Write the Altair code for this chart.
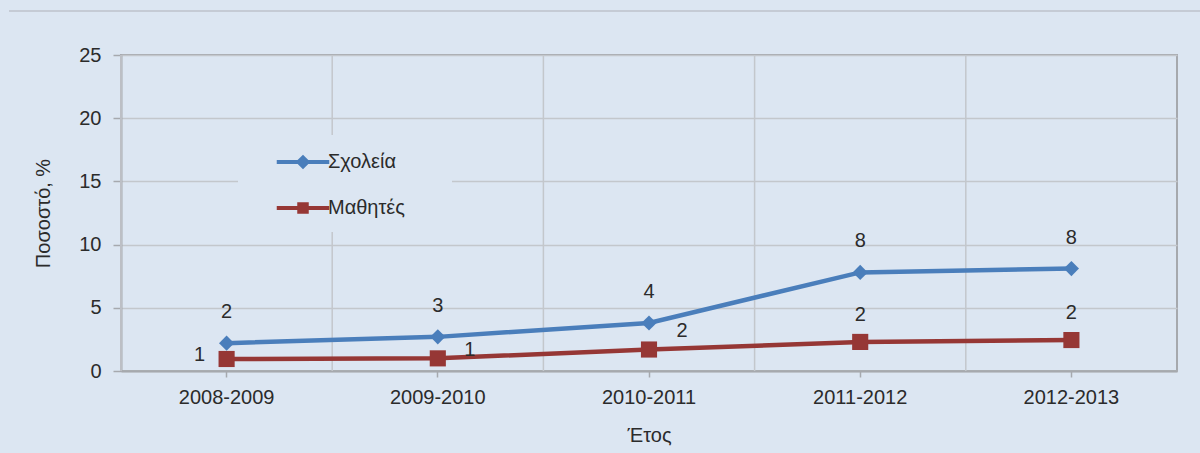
import altair as alt
import pandas as pd

years = ["2008-2009", "2009-2010", "2010-2011", "2011-2012", "2012-2013"]
schools = [2.2, 2.7, 3.8, 7.8, 8.1]
schools_labels = ["2", "3", "4", "8", "8"]
students = [0.95, 1.0, 1.7, 2.3, 2.45]
students_labels = ["1", "1", "2", "2", "2"]

BG = "#DCE6F2"
BLUE = "#4A7EBB"
RED = "#963735"
TXT = "#2B2B2B"
FONT = "Liberation Sans"

s_name = "Σχολεία"
m_name = "Μαθητές"

df_s = pd.DataFrame({"year": years, "value": schools, "label": schools_labels,
                     "series": s_name, "idx": range(5)})
df_m = pd.DataFrame({"year": years, "value": students, "label": students_labels,
                     "series": m_name, "idx": range(5)})
df_grid = pd.DataFrame({"year": years})

xscale = alt.Scale(type="band", domain=years, paddingInner=0, paddingOuter=0)
yscale = alt.Scale(domain=[0, 25])

X = alt.X("year:N", scale=xscale, bandPosition=0.5,
          axis=alt.Axis(title="Έτος", grid=False, bandPosition=0.5, tickSize=6,
                        labelPadding=20, titlePadding=18, labelAngle=0,
                        labelAlign="center"))
Y = alt.Y("value:Q", scale=yscale,
          axis=alt.Axis(title="Ποσοστό, %", values=[0, 5, 10, 15, 20, 25], tickSize=8,
                        labelPadding=12, titlePadding=25, grid=True))

# vertical gridlines at category boundaries
vgrid = alt.Chart(df_grid).mark_rule(color="#C3C7CC", strokeWidth=1.5).encode(
    x=alt.X("year:N", scale=xscale, bandPosition=0)
)

# top frame line
frame = alt.Chart(df_grid).mark_rule(color="#C4CBD4", strokeWidth=1.5).encode(
    x=alt.value(-112), x2=alt.value(1079), y=alt.value(-44)
)

# legend background box (hides gridlines behind the legend)
legend_box = alt.Chart(df_grid).mark_rect(color=BG, opacity=1).encode(
    x=alt.value(117), x2=alt.value(331), y=alt.value(80), y2=alt.value(177)
)

diamond_path = "M-1.75,0H1.75M-0.3,0L0,-0.3L0.3,0L0,0.3Z"
square_path = "M-1.75,0H1.75M-0.25,-0.25H0.25V0.25H-0.25Z"


def legend(path, color, ly):
    return alt.Legend(
        title=None, orient="none", legendX=117, legendY=ly,
        symbolType=path, symbolSize=900, symbolStrokeWidth=4,
        symbolFillColor=color, symbolStrokeColor=color, symbolOpacity=1,
        symbolOffset=38, labelOffset=8, labelFontSize=20, labelFont=FONT,
        labelColor=TXT, padding=10, fillColor=BG,
    )


def series_layer(df, color, shape, size, path, ly, texts):
    cscale = alt.Scale(domain=[df["series"][0]], range=[color])
    line = alt.Chart(df).mark_line(strokeWidth=4.5).encode(
        x=X, y=Y,
        color=alt.Color("series:N", scale=cscale, legend=legend(path, color, ly)),
    )
    pts = alt.Chart(df).mark_point(shape=shape, filled=True, size=size, opacity=1).encode(
        x=X, y=Y,
        color=alt.Color("series:N", scale=cscale, legend=legend(path, color, ly)),
    )
    return alt.layer(line, pts, *texts)


def text_layer(df, idxs, dx, dy):
    return alt.Chart(df).transform_filter(
        alt.FieldOneOfPredicate(field="idx", oneOf=idxs)
    ).mark_text(dx=dx, dy=dy, fontSize=20, font=FONT, color=TXT).encode(
        x=X, y=Y, text="label:N"
    )


blue = series_layer(df_s, BLUE, "diamond", 230, diamond_path, 80,
                    [text_layer(df_s, [0, 1, 2, 3, 4], 0, -31)])
red = series_layer(df_m, RED, "square", 260, square_path, 126,
                   [text_layer(df_m, [0], -27, -4),
                    text_layer(df_m, [1], 32, -8),
                    text_layer(df_m, [2], 33, -19),
                    text_layer(df_m, [3, 4], 0, -27)])

chart = alt.layer(frame, vgrid, legend_box, blue, red).resolve_scale(color="independent").properties(
    width=1056, height=316,
    autosize=alt.AutoSizeParams(type="none"),
    padding={"left": 121, "top": 55, "right": 23, "bottom": 82},
    background=BG,
).configure_view(
    stroke="#A6A9AE", strokeWidth=2, fill=BG
).configure_axis(
    labelFont=FONT, titleFont=FONT, labelFontSize=20, titleFontSize=20,
    labelColor=TXT, titleColor=TXT, titleFontWeight="normal",
    domainColor="#A6A9AE", domainWidth=2, tickColor="#A6A9AE", tickWidth=1.5,
    gridColor="#C3C7CC", gridWidth=1.5,
)

chart.save("out.html", embed_options={"renderer": "svg", "actions": False})
